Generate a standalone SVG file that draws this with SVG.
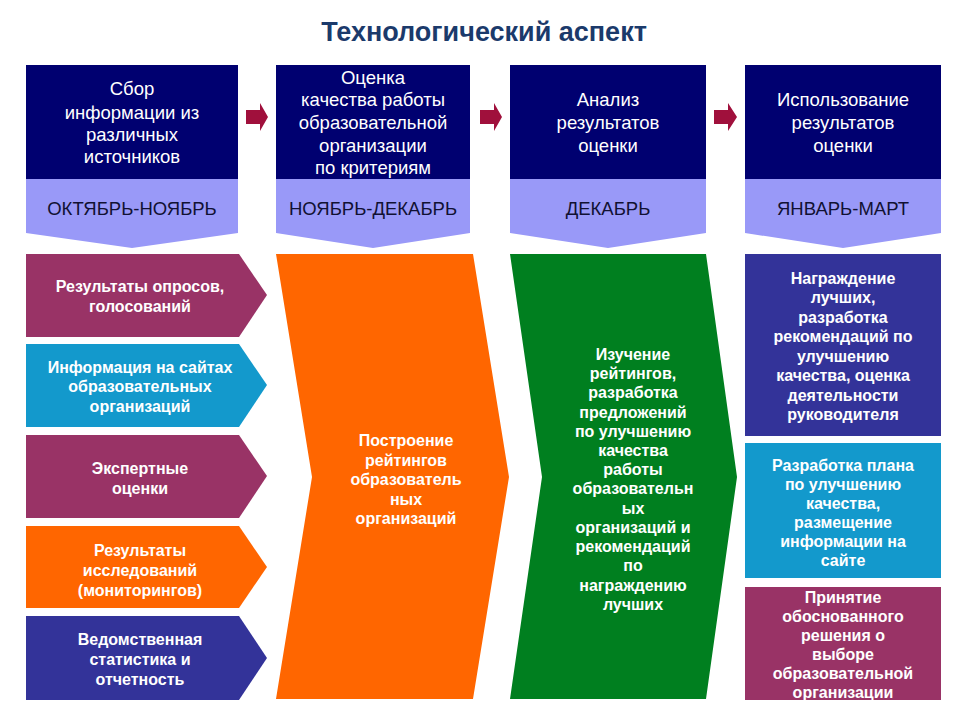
<svg xmlns="http://www.w3.org/2000/svg" width="960" height="720" viewBox="0 0 960 720">
<defs>
<style>
.title{font-family:"Liberation Sans",Arial,sans-serif;font-size:27px;font-weight:bold;fill:#1b3a6b;text-anchor:middle}
.hd{font-family:"Liberation Sans",Arial,sans-serif;font-size:18.5px;fill:#ffffff;text-anchor:middle}
.per{font-family:"Liberation Sans",Arial,sans-serif;font-size:18.5px;fill:#111133;text-anchor:middle}
.t{font-family:"Liberation Sans",Arial,sans-serif;font-size:16px;font-weight:bold;fill:#ffffff;text-anchor:middle}
.dark{fill:#000070}
.light{fill:#9999f8}
.arr{fill:#a0103c}
.plum{fill:#993366}
.teal{fill:#1399cc}
.orange{fill:#ff6600}
.indigo{fill:#333399}
.green{fill:#007f1f}
</style>
</defs>
<rect width="960" height="720" fill="#ffffff"/>
<text class="title" x="484" y="41">Технологический аспект</text>

<g id="stage1">
<rect class="dark" x="26" y="65" width="212" height="114"/>
<polygon class="light" points="26,179 238,179 238,233 132,248 26,233"/>
<text class="hd" x="132" y="95">Сбор</text>
<text class="hd" x="132" y="119">информации из</text>
<text class="hd" x="132" y="141">различных</text>
<text class="hd" x="132" y="163">источников</text>
<text class="per" x="132" y="215">ОКТЯБРЬ-НОЯБРЬ</text>
</g>
<g id="stage2">
<rect class="dark" x="276" y="65" width="194" height="114"/>
<polygon class="light" points="276,179 470,179 470,233 373,248 276,233"/>
<text class="hd" x="373" y="84">Оценка</text>
<text class="hd" x="373" y="106">качества работы</text>
<text class="hd" x="373" y="129">образовательной</text>
<text class="hd" x="373" y="152">организации</text>
<text class="hd" x="373" y="174">по критериям</text>
<text class="per" x="373" y="215">НОЯБРЬ-ДЕКАБРЬ</text>
</g>
<g id="stage3">
<rect class="dark" x="510" y="65" width="196" height="114"/>
<polygon class="light" points="510,179 706,179 706,233 608,248 510,233"/>
<text class="hd" x="608" y="106">Анализ</text>
<text class="hd" x="608" y="129">результатов</text>
<text class="hd" x="608" y="152">оценки</text>
<text class="per" x="608" y="215">ДЕКАБРЬ</text>
</g>
<g id="stage4">
<rect class="dark" x="745" y="65" width="196" height="114"/>
<polygon class="light" points="745,179 941,179 941,233 843,248 745,233"/>
<text class="hd" x="843" y="106">Использование</text>
<text class="hd" x="843" y="129">результатов</text>
<text class="hd" x="843" y="152">оценки</text>
<text class="per" x="843" y="215">ЯНВАРЬ-МАРТ</text>
</g>

<g id="connectors">
<polygon class="arr" points="246,110 260,110 260,103 268,117 260,131 260,124 246,124"/>
<polygon class="arr" points="480,110 494,110 494,103 502,117 494,131 494,124 480,124"/>
<polygon class="arr" points="714,110 728,110 728,103 737,117 728,131 728,124 714,124"/>
</g>

<g id="src1">
<polygon class="plum" points="26,254 239,254 267,295 239,337 26,337"/>
<text class="t" x="140" y="292">Результаты опросов,</text>
<text class="t" x="140" y="312">голосований</text>
</g>
<g id="src2">
<polygon class="teal" points="26,344 239,344 267,385 239,427 26,427"/>
<text class="t" x="140" y="373">Информация на сайтах</text>
<text class="t" x="140" y="392">образовательных</text>
<text class="t" x="140" y="412">организаций</text>
</g>
<g id="src3">
<polygon class="plum" points="26,435 239,435 267,476 239,518 26,518"/>
<text class="t" x="140" y="474">Экспертные</text>
<text class="t" x="140" y="494">оценки</text>
</g>
<g id="src4">
<polygon class="orange" points="26,526 239,526 267,567 239,608 26,608"/>
<text class="t" x="140" y="556">Результаты</text>
<text class="t" x="140" y="576">исследований</text>
<text class="t" x="140" y="596">(мониторингов)</text>
</g>
<g id="src5">
<polygon class="indigo" points="26,616 239,616 267,658 239,700 26,700"/>
<text class="t" x="140" y="645">Ведомственная</text>
<text class="t" x="140" y="665">статистика и</text>
<text class="t" x="140" y="685">отчетность</text>
</g>

<g id="ranking">
<polygon class="orange" points="276,254 473,254 509,477 473,699 276,699 312,477"/>
<text class="t" x="406" y="446">Построение</text>
<text class="t" x="406" y="466">рейтингов</text>
<text class="t" x="406" y="485">образователь</text>
<text class="t" x="406" y="505">ных</text>
<text class="t" x="406" y="524">организаций</text>
</g>

<g id="study">
<polygon class="green" points="510,254 706,254 737,477 706,699 510,699 542,477"/>
<text class="t" x="633" y="360">Изучение</text>
<text class="t" x="633" y="379">рейтингов,</text>
<text class="t" x="633" y="398">разработка</text>
<text class="t" x="633" y="418">предложений</text>
<text class="t" x="633" y="437">по улучшению</text>
<text class="t" x="633" y="456">качества</text>
<text class="t" x="633" y="475">работы</text>
<text class="t" x="633" y="494">образовательн</text>
<text class="t" x="633" y="514">ых</text>
<text class="t" x="633" y="533">организаций и</text>
<text class="t" x="633" y="552">рекомендаций</text>
<text class="t" x="633" y="571">по</text>
<text class="t" x="633" y="591">награждению</text>
<text class="t" x="633" y="610">лучших</text>
</g>

<g id="use1">
<rect class="indigo" x="745" y="254" width="196" height="182"/>
<text class="t" x="843" y="284">Награждение</text>
<text class="t" x="843" y="303">лучших,</text>
<text class="t" x="843" y="323">разработка</text>
<text class="t" x="843" y="342">рекомендаций по</text>
<text class="t" x="843" y="362">улучшению</text>
<text class="t" x="843" y="381">качества, оценка</text>
<text class="t" x="843" y="401">деятельности</text>
<text class="t" x="843" y="420">руководителя</text>
</g>
<g id="use2">
<rect class="teal" x="745" y="443" width="196" height="135"/>
<text class="t" x="843" y="471">Разработка плана</text>
<text class="t" x="843" y="490">по улучшению</text>
<text class="t" x="843" y="509">качества,</text>
<text class="t" x="843" y="528">размещение</text>
<text class="t" x="843" y="547">информации на</text>
<text class="t" x="843" y="566">сайте</text>
</g>
<g id="use3">
<rect class="plum" x="745" y="587" width="196" height="113"/>
<text class="t" x="843" y="603">Принятие</text>
<text class="t" x="843" y="622">обоснованного</text>
<text class="t" x="843" y="641">решения о</text>
<text class="t" x="843" y="660">выборе</text>
<text class="t" x="843" y="679">образовательной</text>
<text class="t" x="843" y="698">организации</text>
</g>
</svg>
